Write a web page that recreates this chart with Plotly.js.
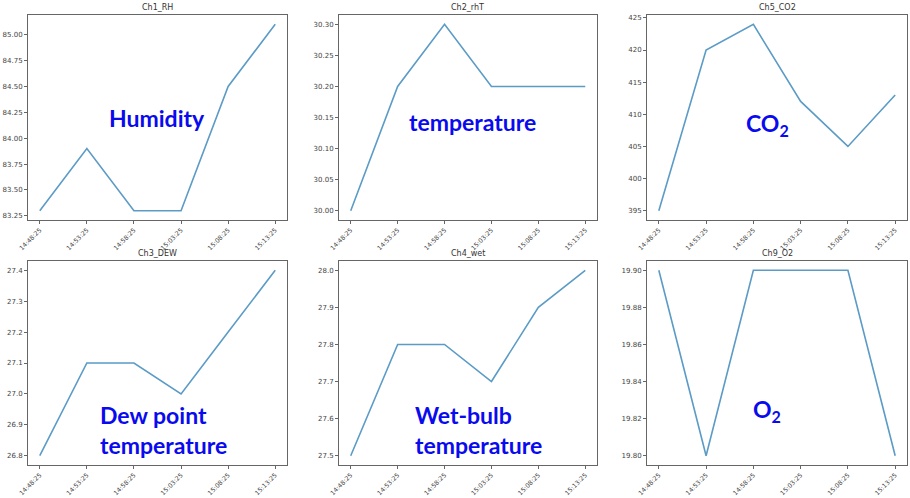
<!DOCTYPE html>
<html>
<head>
<meta charset="utf-8">
<script src="https://cdn.plot.ly/plotly-3.0.1.min.js"></script>
<style>body{margin:0;padding:0;background:#fff}#chart{width:910px;height:498px}</style>
</head>
<body>
<div id="chart"></div>
<script>
const times = ["14:48:25","14:53:25","14:58:25","15:03:25","15:08:25","15:13:25"];
const ch1_RH  = [83.3, 83.9, 83.3, 83.3, 84.5, 85.1];
const ch2_rhT = [30.0, 30.2, 30.3, 30.2, 30.2, 30.2];
const ch5_CO2 = [395, 420, 424, 412, 405, 413];
const ch3_DEW = [26.8, 27.1, 27.1, 27.0, 27.2, 27.4];
const ch4_wet = [27.5, 27.8, 27.8, 27.7, 27.9, 28.0];
const ch9_O2  = [19.9, 19.8, 19.9, 19.9, 19.9, 19.8];
const titles = ["Ch1_RH","Ch2_rhT","Ch5_CO2","Ch3_DEW","Ch4_wet","Ch9_O2"];
const labels = ["Humidity","temperature","CO<sub>2</sub>","Dew point<br>temperature","Wet-bulb<br>temperature","O<sub>2</sub>"];

const series = [ch1_RH, ch2_rhT, ch5_CO2, ch3_DEW, ch4_wet, ch9_O2];
const yticks = [
  {vals:[83.25,83.5,83.75,84,84.25,84.5,84.75,85], fmt:'.2f'},
  {vals:[30,30.05,30.1,30.15,30.2,30.25,30.3], fmt:'.2f'},
  {vals:[395,400,405,410,415,420,425], fmt:'d'},
  {vals:[26.8,26.9,27.0,27.1,27.2,27.3,27.4], fmt:'.1f'},
  {vals:[27.5,27.6,27.7,27.8,27.9,28.0], fmt:'.1f'},
  {vals:[19.80,19.82,19.84,19.86,19.88,19.90], fmt:'.2f'}
];
const xdom = [[28/910,287/910],[339/910,597/910],[647/910,907/910]];
const ydom = [[1-220/498,1-15/498],[1-465/498,1-261/498]];
const labelPos = [[157,118],[472,122],[767,124],[163,430],[478,430],[767,410]];

const data = [];
const layout = {
  width:910, height:498, margin:{l:0,r:0,t:0,b:0},
  paper_bgcolor:'#fff', plot_bgcolor:'#fff', showlegend:false,
  annotations:[]
};
for (let i=0;i<6;i++){
  const n = i+1;
  const xa = 'x'+(n===1?'':n), ya = 'y'+(n===1?'':n);
  data.push({x:times, y:series[i], type:'scatter', mode:'lines', xaxis:xa, yaxis:ya,
    line:{color:'#5b9bc6', width:1.6}, hoverinfo:'skip'});
  const col = i%3, row = Math.floor(i/3);
  const mn = Math.min(...series[i]), mx = Math.max(...series[i]);
  const pad = (mx-mn)*0.05;
  layout['xaxis'+(n===1?'':n)] = {
    domain:xdom[col], anchor:ya, type:'category', range:[-0.25,5.25],
    tickangle:-45, tickfont:{family:'DejaVu Sans', size:6.3, color:'#444'},
    showline:true, mirror:true, linecolor:'#666', linewidth:1,
    ticks:'outside', ticklen:3, tickcolor:'#666', showgrid:false, zeroline:false, fixedrange:true
  };
  layout['yaxis'+(n===1?'':n)] = {
    domain:ydom[row], anchor:xa, range:[mn-pad, mx+pad],
    tickvals:yticks[i].vals, tickformat:yticks[i].fmt,
    tickfont:{family:'DejaVu Sans', size:7, color:'#444'},
    showline:true, mirror:true, linecolor:'#666', linewidth:1,
    ticks:'outside', ticklen:3, tickcolor:'#666', showgrid:false, zeroline:false, fixedrange:true
  };
  layout.annotations.push({
    text:titles[i], xref:'paper', yref:'paper',
    x:(xdom[col][0]+xdom[col][1])/2, y:ydom[row][1], yanchor:'bottom', xanchor:'center',
    showarrow:false, yshift:1, font:{family:'DejaVu Sans', size:8, color:'#333'}
  });
  layout.annotations.push({
    text:'<b>'+labels[i]+'</b>', xref:'paper', yref:'paper',
    x:labelPos[i][0]/910, y:1-labelPos[i][1]/498, xanchor:'center', yanchor:'middle',
    showarrow:false, align:'left', font:{family:'Lato', size:23, color:'#0a0aee'}
  });
}
Plotly.newPlot('chart', data, layout, {staticPlot:true});
</script>
</body>
</html>
